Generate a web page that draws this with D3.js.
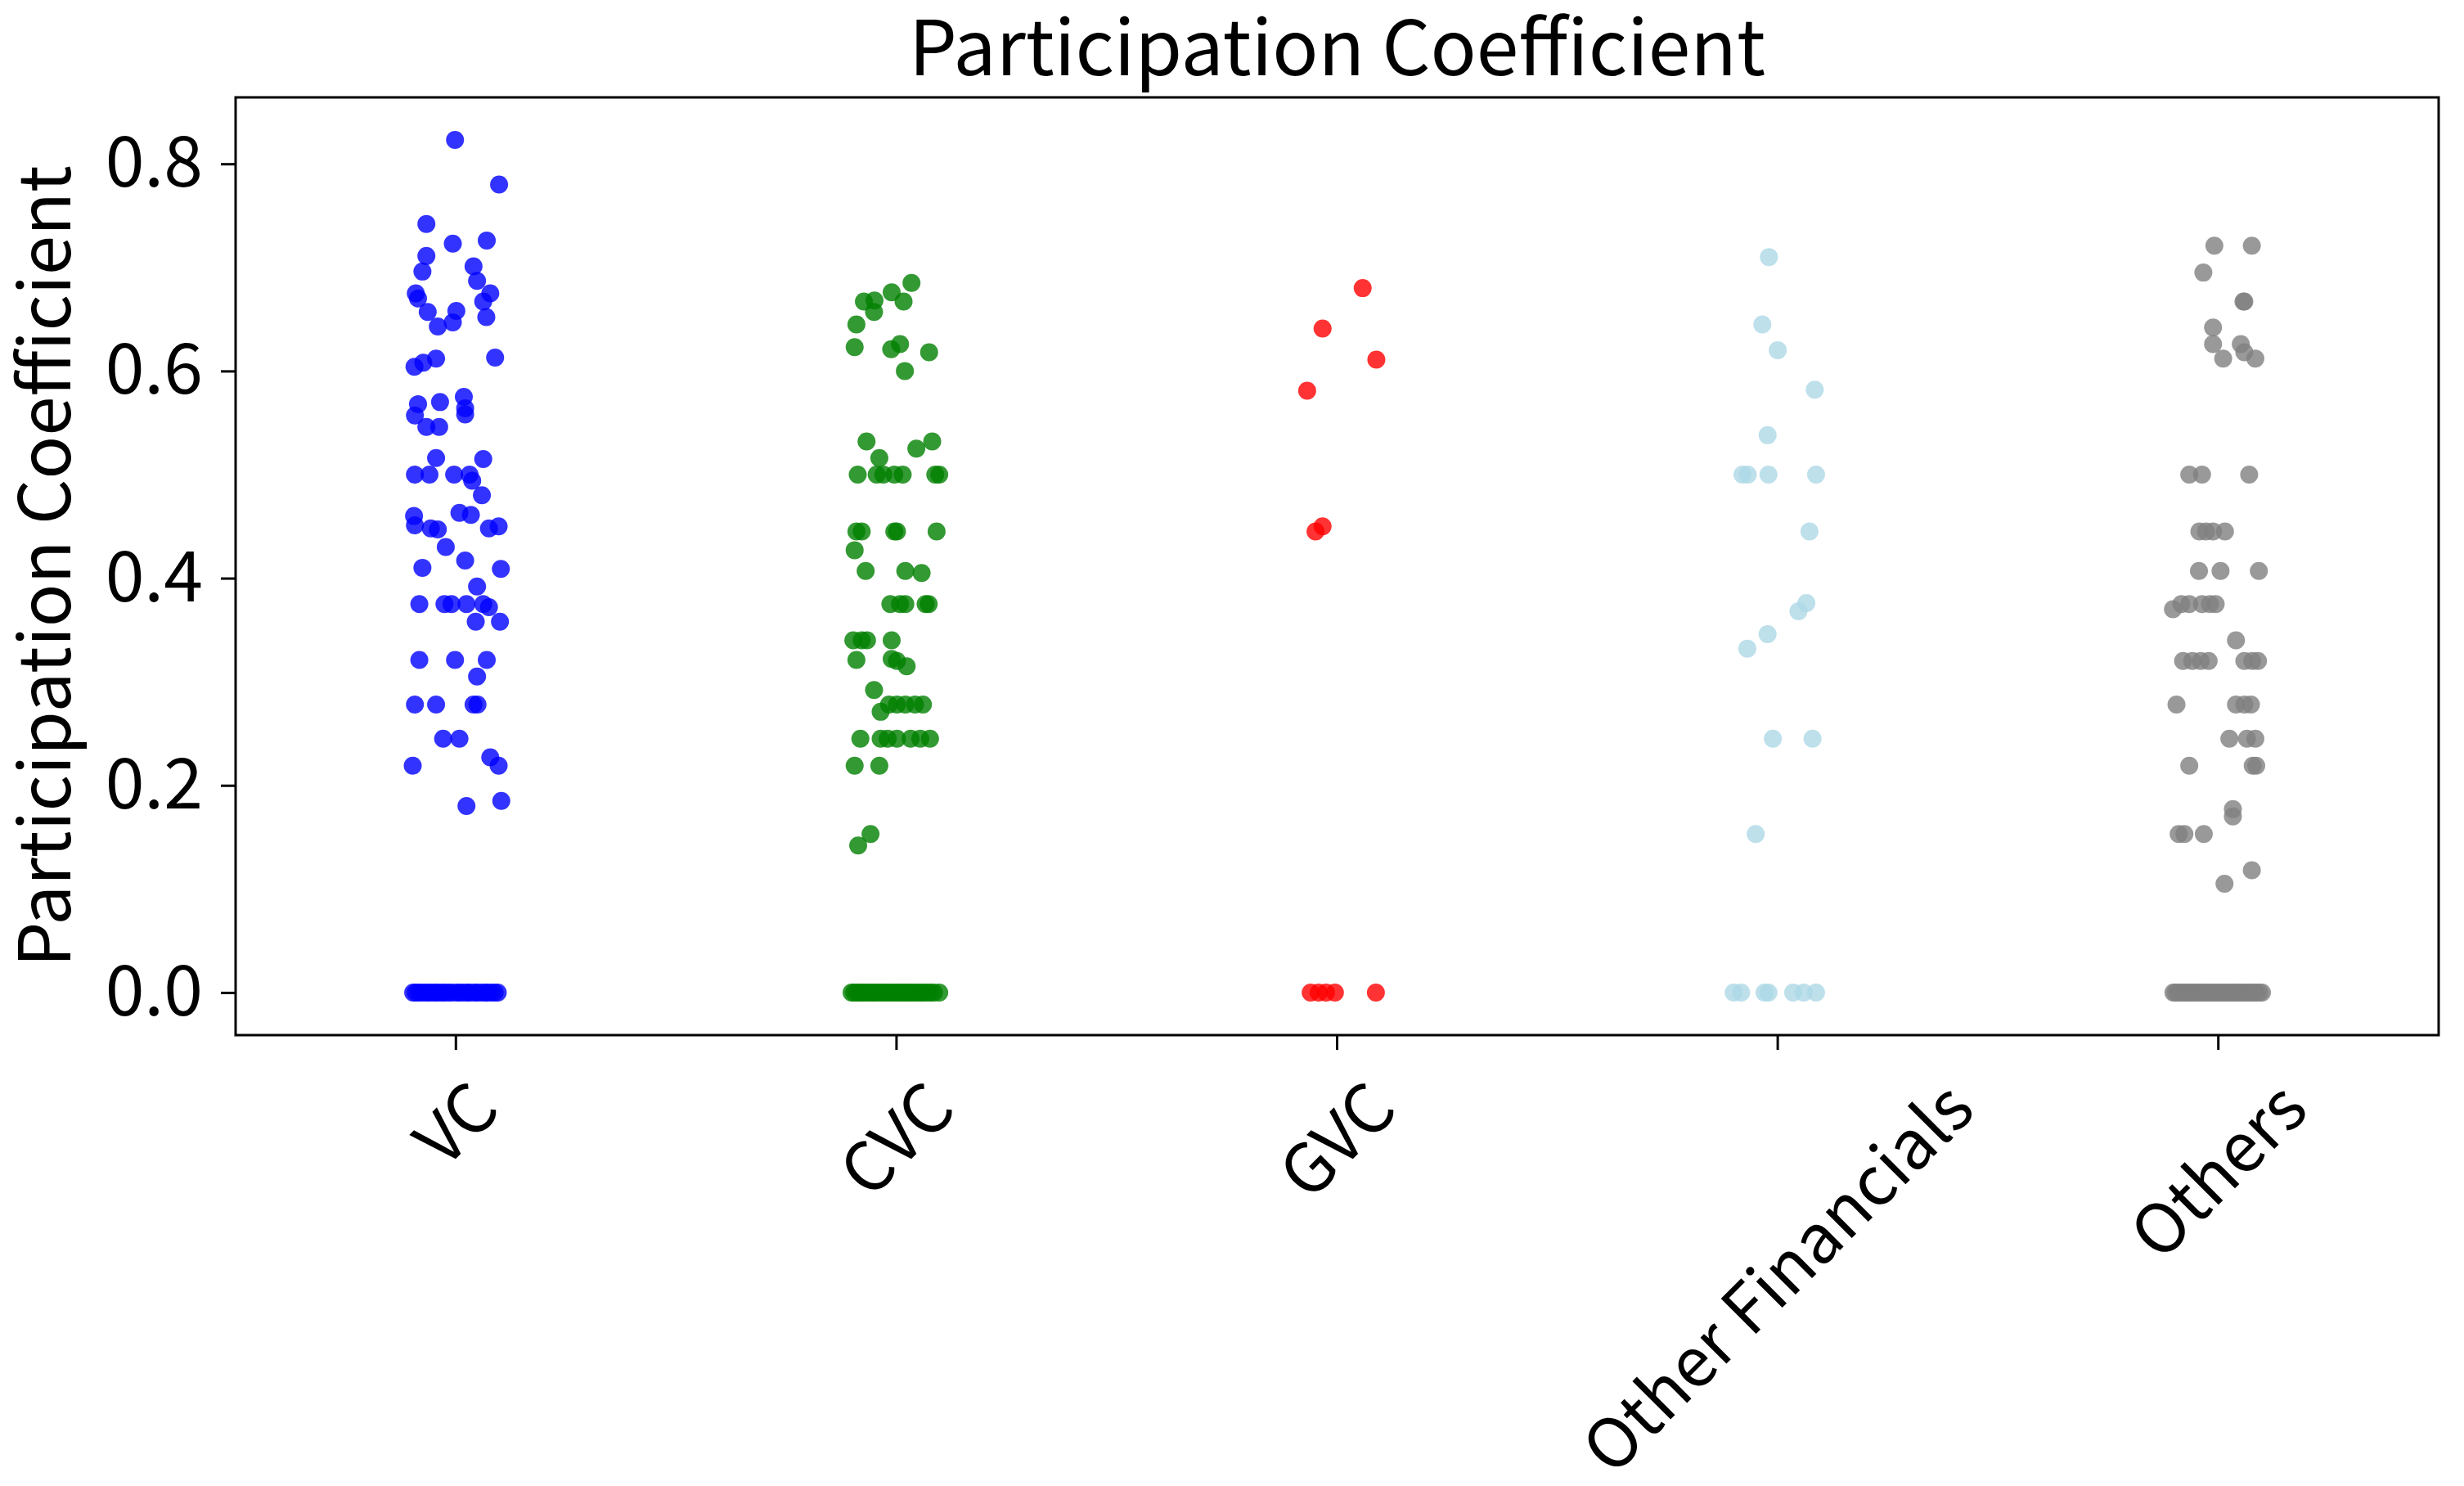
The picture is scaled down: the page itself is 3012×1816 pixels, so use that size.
<!DOCTYPE html>
<html>
<head>
<meta charset="utf-8">
<script src="https://cdn.jsdelivr.net/npm/d3@7"></script>
<style>
  body { margin: 0; background: #fff; }
  text { font-family: 'Noto Sans CJK JP', 'Noto Sans', sans-serif; fill: #000; }
</style>
</head>
<body>
<svg id="chart"></svg>
<script>
// categories and colours
var categories = ['VC', 'CVC', 'GVC', 'Other Financials', 'Others'];
var colors = ['blue', 'green', 'red', 'lightblue', 'gray'];
var yTicks = [0, 0.2, 0.4, 0.6, 0.8];

// values, with the horizontal jitter of each dot (in band units)
var vcValues = [0.823, 0.780, 0.742, 0.723, 0.726, 0.711, 0.696, 0.701, 0.687, 0.675,
  0.675, 0.667, 0.670, 0.657, 0.643, 0.658, 0.647, 0.652, 0.604, 0.608,
  0.612, 0.613, 0.568, 0.570, 0.575, 0.564, 0.557, 0.546, 0.546, 0.558,
  0.516, 0.515, 0.500, 0.500, 0.500, 0.500, 0.494, 0.480, 0.460, 0.451,
  0.448, 0.447, 0.463, 0.461, 0.448, 0.450, 0.430, 0.417, 0.410, 0.409,
  0.392, 0.375, 0.375, 0.375, 0.375, 0.375, 0.372, 0.358, 0.358, 0.321,
  0.321, 0.321, 0.305, 0.278, 0.278, 0.278, 0.278, 0.245, 0.245, 0.219,
  0.227, 0.219, 0.180, 0.185];
var vcJitter = [-0.002, 0.098, -0.067, -0.007, 0.070, -0.067, -0.076, 0.040, 0.048, 0.078,
  -0.091, 0.062, -0.086, -0.064, -0.041, 0.001, -0.007, 0.069, -0.094, -0.074,
  -0.045, 0.089, -0.086, -0.036, 0.018, 0.021, -0.093, -0.067, -0.038, 0.021,
  -0.045, 0.062, -0.093, -0.060, -0.004, 0.031, 0.037, 0.059, -0.095, -0.093,
  -0.057, -0.041, 0.008, 0.034, 0.075, 0.097, -0.023, 0.021, -0.076, 0.102,
  0.048, -0.083, -0.026, -0.010, 0.024, 0.062, 0.075, 0.045, 0.100, -0.083,
  -0.002, 0.070, 0.048, -0.093, -0.045, 0.040, 0.049, -0.029, 0.008, -0.098,
  0.078, 0.097, 0.024, 0.103];
var vcZeroJitter = [-0.097, -0.091, -0.084, -0.078, -0.069, -0.063, -0.055, -0.047, -0.041, -0.032,
  -0.026, -0.017, -0.009, 0.002, 0.008, 0.017, 0.026, 0.031, 0.042, 0.048,
  0.057, 0.066, 0.071, 0.080, 0.088, 0.095];

var cvcValues = [0.685, 0.676, 0.667, 0.667, 0.668, 0.657, 0.645, 0.623, 0.621, 0.626,
  0.618, 0.600, 0.532, 0.532, 0.525, 0.516, 0.500, 0.500, 0.500, 0.500,
  0.500, 0.500, 0.500, 0.445, 0.445, 0.445, 0.445, 0.445, 0.427, 0.407,
  0.407, 0.405, 0.375, 0.375, 0.375, 0.375, 0.375, 0.340, 0.340, 0.340,
  0.340, 0.321, 0.322, 0.320, 0.315, 0.292, 0.278, 0.278, 0.278, 0.278,
  0.278, 0.271, 0.245, 0.245, 0.245, 0.245, 0.245, 0.245, 0.245, 0.219,
  0.219, 0.153, 0.142];
var cvcJitter = [0.034, -0.011, 0.016, -0.074, -0.050, -0.051, -0.091, -0.095, -0.012, 0.008,
  0.074, 0.019, -0.068, 0.081, 0.045, -0.039, -0.088, -0.045, -0.030, -0.005,
  0.014, 0.088, 0.097, -0.091, -0.079, -0.005, 0.001, 0.091, -0.095, -0.070,
  0.020, 0.057, -0.014, 0.008, 0.020, 0.066, 0.073, -0.098, -0.079, -0.067,
  -0.011, -0.091, -0.011, 0.001, 0.023, -0.051, -0.017, 0.001, 0.020, 0.042,
  0.060, -0.036, -0.082, -0.036, -0.020, 0.001, 0.032, 0.054, 0.076, -0.095,
  -0.039, -0.059, -0.087];
var cvcZeroJitter = [-0.102, -0.096, -0.089, -0.083, -0.077, -0.072, -0.064, -0.058, -0.051, -0.046,
  -0.038, -0.031, -0.025, -0.018, -0.011, -0.004, 0.003, 0.009, 0.016, 0.022,
  0.029, 0.035, 0.043, 0.049, 0.056, 0.062, 0.070, 0.077, 0.085, 0.097];

var gvcValues = [0.680, 0.641, 0.611, 0.581, 0.450, 0.445];
var gvcJitter = [0.058, -0.033, 0.089, -0.068, -0.033, -0.049];
var gvcZeroJitter = [-0.060, -0.042, -0.025, -0.005, 0.088];

var ofValues = [0.710, 0.645, 0.620, 0.582, 0.538, 0.500, 0.500, 0.500, 0.500, 0.445,
  0.376, 0.368, 0.346, 0.332, 0.245, 0.245, 0.153];
var ofJitter = [-0.020, -0.035, 0.000, 0.084, -0.023, -0.080, -0.068, -0.021, 0.087, 0.072,
  0.065, 0.047, -0.023, -0.069, -0.011, 0.079, -0.050];
var ofZeroJitter = [-0.100, -0.083, -0.030, -0.021, 0.035, 0.059, 0.087];

var othersValues = [0.721, 0.721, 0.695, 0.667, 0.667, 0.642, 0.626, 0.612, 0.626, 0.618,
  0.612, 0.500, 0.500, 0.500, 0.445, 0.445, 0.445, 0.445, 0.407, 0.407,
  0.407, 0.375, 0.375, 0.375, 0.375, 0.375, 0.370, 0.340, 0.320, 0.320,
  0.320, 0.320, 0.320, 0.320, 0.320, 0.278, 0.278, 0.278, 0.278, 0.245,
  0.245, 0.245, 0.219, 0.219, 0.219, 0.177, 0.170, 0.153, 0.153, 0.153,
  0.118, 0.105];
var othersJitter = [-0.009, 0.076, -0.034, 0.057, 0.059, -0.012, -0.012, 0.011, 0.051, 0.059,
  0.084, -0.066, -0.037, 0.070, -0.043, -0.028, -0.012, 0.015, -0.044, 0.005,
  0.092, -0.084, -0.066, -0.037, -0.019, -0.006, -0.103, 0.040, -0.080, -0.059,
  -0.040, -0.022, 0.059, 0.077, 0.090, -0.095, 0.040, 0.059, 0.074, 0.025,
  0.065, 0.084, -0.066, 0.078, 0.086, 0.033, 0.033, -0.090, -0.077, -0.033,
  0.076, 0.014];
var othersZeroJitter = [-0.102, -0.097, -0.091, -0.086, -0.079, -0.074, -0.068, -0.062, -0.057, -0.050,
  -0.044, -0.039, -0.031, -0.026, -0.020, -0.013, -0.007, -0.001, 0.006, 0.012,
  0.018, 0.025, 0.031, 0.036, 0.043, 0.049, 0.055, 0.062, 0.068, 0.073,
  0.080, 0.086, 0.093, 0.099];

var groups = [
  { values: vcValues, jitter: vcJitter, zeros: vcZeroJitter },
  { values: cvcValues, jitter: cvcJitter, zeros: cvcZeroJitter },
  { values: gvcValues, jitter: gvcJitter, zeros: gvcZeroJitter },
  { values: ofValues, jitter: ofJitter, zeros: ofZeroJitter },
  { values: othersValues, jitter: othersJitter, zeros: othersZeroJitter }
];

var W = 3012, H = 1816;
var margin = { top: 119, right: 31, bottom: 551, left: 288 };
var width = W - margin.left - margin.right,
  height = H - margin.top - margin.bottom;
var fontTick = 86;

// flatten into point records
var points = [];
groups.forEach(function (g, i) {
  g.values.forEach(function (v, k) {
    points.push({ cat: categories[i], ci: i, value: v, jitter: g.jitter[k] });
  });
  g.zeros.forEach(function (j) {
    points.push({ cat: categories[i], ci: i, value: 0, jitter: j });
  });
});

var x = d3.scaleBand().domain(categories).range([0, width]);
var ext = d3.extent(points, function (d) { return d.value; });
var pad = (ext[1] - ext[0]) * 0.05;
var y = d3.scaleLinear().domain([ext[0] - pad, ext[1] + pad]).range([height, 0]);

var svg = d3.select('#chart')
  .attr('width', W)
  .attr('height', H);

var g = svg.append('g')
  .attr('transform', 'translate(' + margin.left + ',' + margin.top + ')');

// dots
g.selectAll('.dot')
  .data(points)
  .enter().append('circle')
  .attr('class', 'dot')
  .attr('cx', function (d) { return x(d.cat) + x.bandwidth() / 2 + d.jitter * x.bandwidth(); })
  .attr('cy', function (d) { return y(d.value); })
  .attr('r', 11)
  .attr('fill', function (d) { return colors[d.ci]; })
  .attr('fill-opacity', 0.8);

// y axis
var yAxis = g.append('g')
  .call(d3.axisLeft(y).tickValues(yTicks).tickFormat(d3.format('.1f')).tickSize(18).tickPadding(22));
yAxis.select('.domain').remove();
yAxis.selectAll('line').attr('stroke-width', 3);
yAxis.selectAll('text').style('font-size', fontTick + 'px').attr('font-family', null);

// x axis
var xAxis = g.append('g')
  .attr('transform', 'translate(0,' + height + ')')
  .call(d3.axisBottom(x).tickSize(18).tickFormat(''));
xAxis.select('.domain').remove();
xAxis.selectAll('line').attr('stroke-width', 3);

// rotated category labels, centred below each tick
var fontX = 83;
categories.forEach(function (c) {
  var cx = x(c) + x.bandwidth() / 2;
  var t = xAxis.append('text')
    .style('font-size', fontX + 'px')
    .attr('text-anchor', 'middle')
    .text(c);
  var len = t.node().getComputedTextLength();
  var half = (len + 0.73 * fontX) * Math.SQRT1_2 / 2;
  var cy = 52 + half;
  t.attr('x', cx)
    .attr('y', cy)
    .attr('dy', '0.36em')
    .attr('transform', 'rotate(-45,' + cx + ',' + cy + ')');
});

// frame
g.append('rect')
  .attr('width', width)
  .attr('height', height)
  .attr('fill', 'none')
  .attr('stroke', '#000')
  .attr('stroke-width', 3);

// title
svg.append('text')
  .attr('x', margin.left + width / 2)
  .attr('y', 92)
  .attr('text-anchor', 'middle')
  .style('font-size', '93px')
  .text('Participation Coefficient');

// y label
svg.append('text')
  .attr('transform', 'translate(86,' + (margin.top + height / 2) + ') rotate(-90)')
  .attr('text-anchor', 'middle')
  .style('font-size', '87px')
  .text('Participation Coefficient');
</script>
</body>
</html>
